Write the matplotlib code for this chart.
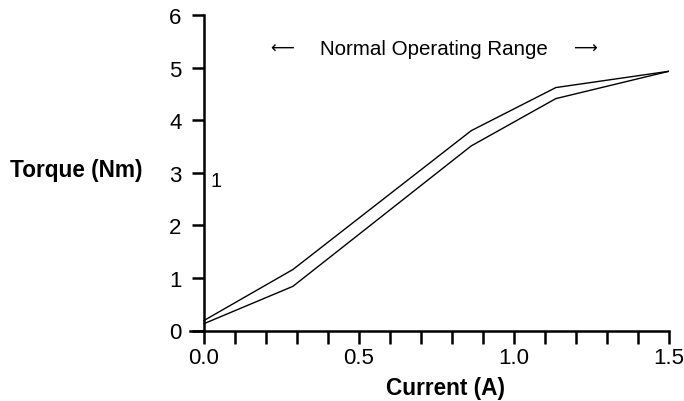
import matplotlib
matplotlib.use('Agg')
import matplotlib.pyplot as plt
from matplotlib.ticker import MultipleLocator

plt.rcParams['font.family'] = ['Liberation Sans', 'DejaVu Sans']

# current (A) and torque (Nm), two branches of the curve
current = [0.0, 0.287, 0.862, 1.135, 1.5]
torque_upper = [0.19, 1.16, 3.80, 4.62, 4.93]
torque_lower = [0.13, 0.84, 3.51, 4.41, 4.93]

fig = plt.figure(figsize=(6.84, 4.02), dpi=100)
ax = fig.add_axes([190 / 684, 1 - 331.5 / 402, 479 / 684, 315.5 / 402])

ax.plot(current, torque_upper, color='black', lw=1.0)
ax.plot(current, torque_lower, color='black', lw=1.0)

ax.set_xlim(-0.045, 1.5)
ax.set_ylim(0, 6)

ax.spines['top'].set_visible(False)
ax.spines['right'].set_visible(False)
ax.spines['left'].set_position(('data', 0))
ax.spines['left'].set_linewidth(1.8)
ax.spines['bottom'].set_linewidth(1.8)

ax.xaxis.set_major_locator(MultipleLocator(0.5))
ax.xaxis.set_minor_locator(MultipleLocator(0.1))
ax.set_xticks([0.0, 0.5, 1.0, 1.5], ['0.0', '0.5', '1.0', '1.5'])
ax.set_yticks(range(0, 7))
ax.tick_params(axis='both', which='both', direction='out', length=9, width=1.8,
               labelsize=16)
ax.tick_params(axis='x', which='both', pad=3)
ax.tick_params(axis='y', pad=7)

# annotations
ax.text(0.252, 5.37, '\u27f5', fontsize=12, family='DejaVu Sans', ha='center', va='center')
ax.text(0.740, 5.37, 'Normal Operating Range', fontsize=14.8, ha='center', va='center')
ax.text(1.229, 5.37, '\u27f6', fontsize=12, family='DejaVu Sans', ha='center', va='center')
ax.text(0.04, 2.85, '1', fontsize=14.5, ha='center', va='center')

fig.text(10 / 684, 1 - 171 / 402, 'Torque (Nm)', fontsize=16.3, fontweight='bold',
         ha='left', va='center')
fig.text(446 / 684, 1 - 389 / 402, 'Current (A)', fontsize=16.3, fontweight='bold',
         ha='center', va='center')

fig.savefig('out.png', dpi=100)
